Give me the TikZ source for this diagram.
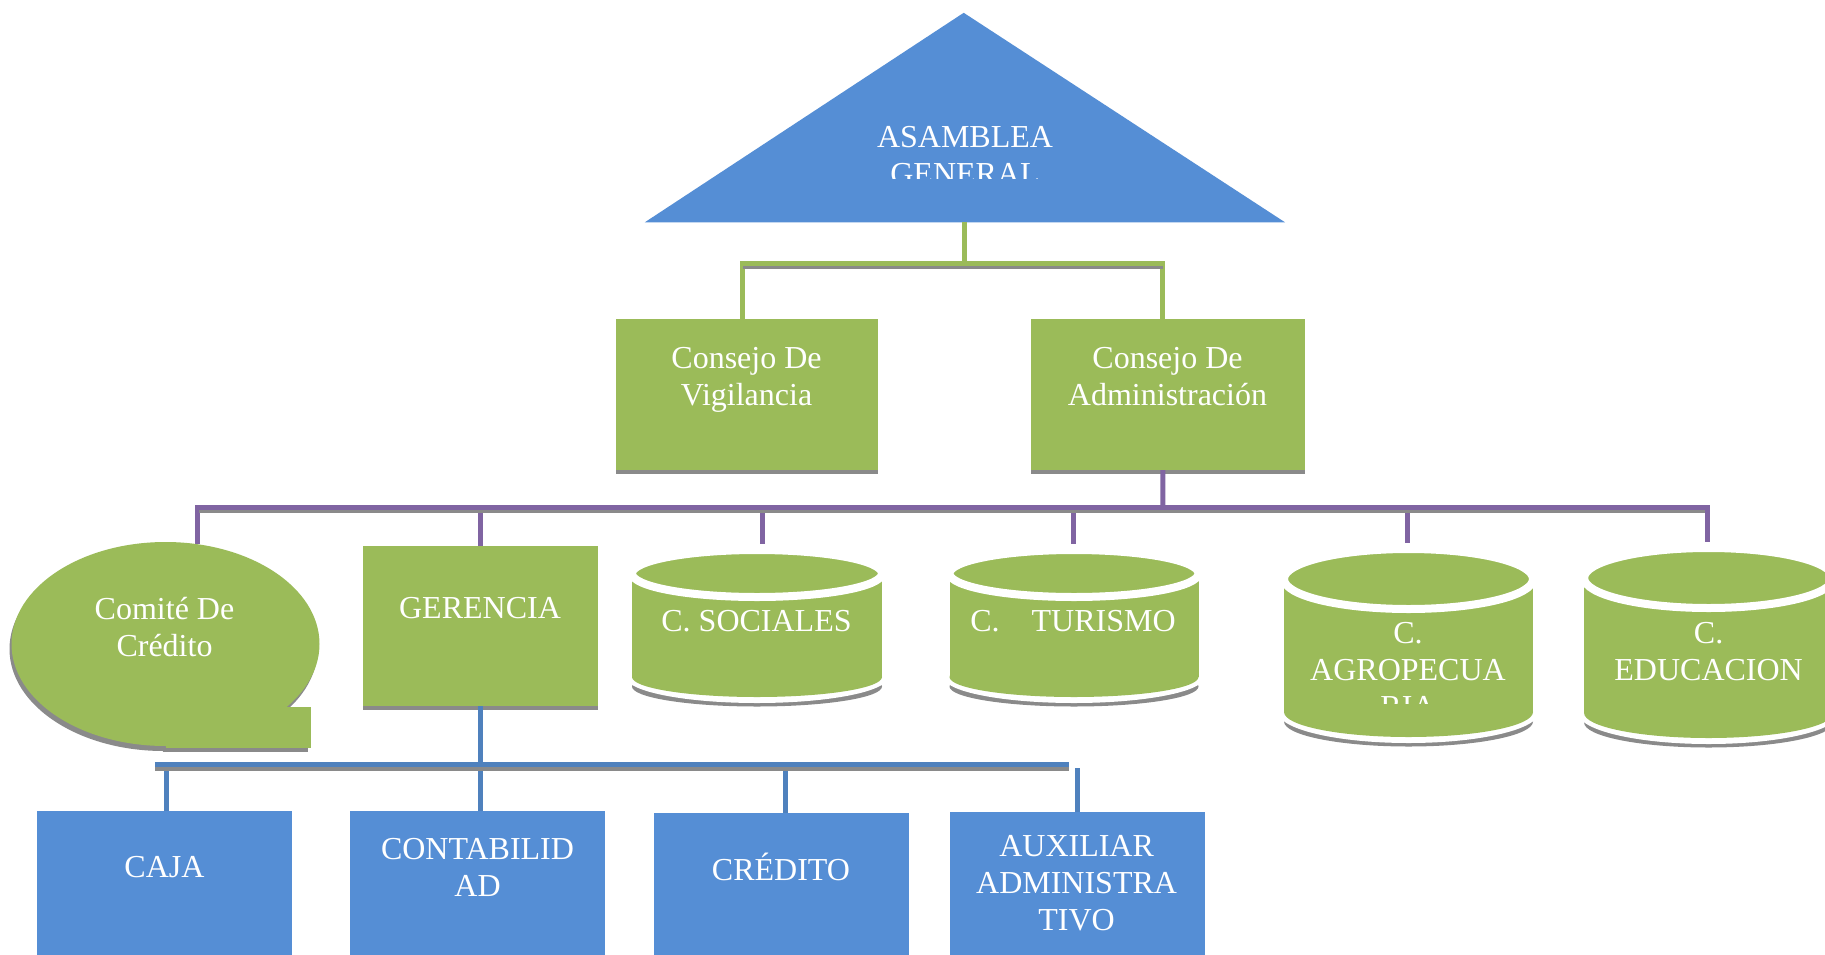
\documentclass[tikz,border=0pt]{standalone}
\usepackage{fontspec}
\setmainfont{Liberation Serif}
\usetikzlibrary{calc}
\definecolor{cblue}{HTML}{558ED5}
\definecolor{cgreen}{HTML}{9BBB59}
\definecolor{cpurple}{HTML}{8064A2}
\definecolor{cline}{HTML}{4F81BD}
\definecolor{cshadow}{HTML}{8A8A8A}
\newcommand\mylines[1]{\vtop{\baselineskip=37pt\halign{\hfil##\hfil\cr#1\crcr}}}
\newcommand\mycyl[6]{% cx hw yt ryt yb ryb
  \pgfmathsetmacro\cxa{#1-#2}\pgfmathsetmacro\cxb{#1+#2}%
  \pgfmathsetmacro\cxo{#1-#2-6}\pgfmathsetmacro\cxp{#1+#2+6}%
  \pgfmathsetmacro\rxo{#2+6}\pgfmathsetmacro\rto{#4+6}\pgfmathsetmacro\rbo{#6+6}%
  \pgfmathsetmacro\ysh{#5+9.5}%
  \fill[cshadow] (#1,\ysh) ellipse [x radius=#2, y radius=#6];
  \fill[white] (#1,#3) ellipse [x radius=\rxo, y radius=\rto];
  \fill[white] (\cxo,#3) rectangle (\cxp,#5);
  \fill[white] (#1,#5) ellipse [x radius=\rxo, y radius=\rbo];
  \fill[cgreen] (\cxa,#3) rectangle (\cxb,#5);
  \fill[cgreen] (#1,#5) ellipse [x radius=#2, y radius=#6];
  \path[fill=cgreen, draw=white, line width=8pt] (#1,#3) ellipse [x radius=#2, y radius=#4];
}
\begin{document}
\begin{tikzpicture}[x=1pt,y=-1pt,
  txt/.style={text=white, font=\fontsize{32}{37}\selectfont, inner sep=0pt, outer sep=0pt, anchor=base},
  gbox/.style={fill=cgreen, inner sep=0pt, outer sep=0pt, draw=none},
  bbox/.style={fill=cblue, inner sep=0pt, outer sep=0pt, draw=none},
  gline/.style={draw=cgreen, line width=5pt},
  pline/.style={draw=cpurple, line width=5pt},
  bline/.style={draw=cline, line width=5pt}]
\useasboundingbox (0,0) rectangle (1825,955);
\fill[white] (0,0) rectangle (1825,955);

% triangle
\fill[cblue] (644.8,222.3) -- (963.7,12.8) -- (1285,222.3) -- cycle;
\coordinate (asam) at (964,222.3);

% boxes
\node[gbox, minimum width=262, minimum height=151] (vig) at (746.65,394.5) {};
\node[gbox, minimum width=274.5, minimum height=151] (adm) at (1167.75,394.5) {};
\node[gbox, minimum width=234.5, minimum height=160] (ger) at (480.25,626) {};
\node[bbox, minimum width=255, minimum height=160] (caja) at (164.5,891) {};
\node[bbox, minimum width=255, minimum height=160] (cont) at (477.8,891) {};
\node[bbox, minimum width=255, minimum height=160] (cred) at (781.5,893) {};
\node[bbox, minimum width=255, minimum height=160] (aux) at (1077,892) {};

% box shadows
\fill[cshadow] (vig.south west) rectangle ($(vig.south east)+(0,4)$);
\fill[cshadow] (adm.south west) rectangle ($(adm.south east)+(0,4)$);
\fill[cshadow] (ger.south west) rectangle ($(ger.south east)+(0,4)$);

% green connectors
\coordinate (gj) at (964,263);
\draw[gline] (asam) -- (gj);
\draw[gline] ([xshift=-4pt]vig.north) |- (gj) -| ([xshift=-5pt]adm.north);
\fill[cshadow] (743,265.5) rectangle (1163,269);

% purple connectors
\coordinate (pj) at (1162.8,507);
\coordinate (comite) at (197,544);
\coordinate (socT) at (762,554);
\coordinate (turT) at (1073,554);
\coordinate (agrT) at (1407,553);
\coordinate (eduT) at (1707.5,552);
\draw[pline] ([xshift=-5pt]adm.south) -- (pj);
\draw[pline] (comite) |- (pj) -| (eduT);
\draw[pline] (ger.north) -- (ger.north |- pj);
\draw[pline] (socT) -- (socT |- pj);
\draw[pline] (turT) -- (turT |- pj);
\draw[pline] (agrT) -- (agrT |- pj);
\fill[cshadow] (199,509.5) rectangle (1705,513);

% blue connectors
\coordinate (bj) at (480.25,764.5);
\coordinate (bl) at (154.8,764.5);
\coordinate (br) at (1068.5,764.5);
\draw[bline] (ger.south) -- (bj);
\draw[bline] (bl) -- (br);
\draw[bline] ([xshift=2pt]caja.north) -- ([xshift=2pt]caja.north |- bj);
\draw[bline] ([xshift=3pt]cont.north) -- ([xshift=3pt]cont.north |- bj);
\draw[bline] ([xshift=3.5pt]cred.north) -- ([xshift=3.5pt]cred.north |- bj);
\draw[bline] (aux.north) -- ++(0,-44);
\fill[cshadow] (154.8,767) rectangle (1068.5,771);

% Comite callout
\fill[cshadow] (163.5,649) ellipse [x radius=154, y radius=102];
\fill[cshadow] (163,712) rectangle (308,752);
\fill[cgreen] (165.5,644) ellipse [x radius=154, y radius=102];
\fill[cgreen] (165.5,707) rectangle (311,748);

% cylinders
\mycyl{757}{125}{573.5}{23.5}{677}{20}
\mycyl{1074}{124.5}{573.5}{23.5}{677}{20}
\mycyl{1408.5}{124.5}{579}{30}{712}{25}
\mycyl{1708.6}{124.5}{578}{30}{713}{25}

% texts
\begin{scope}
\clip (0,0) rectangle (1825,178);
\node[txt] (asam-t) at (965,147.5) {\mylines{ASAMBLEA\cr GENERAL}};
\end{scope}
\node[txt] (vig-t) at (746.5,368.5) {\mylines{Consejo De\cr Vigilancia}};
\node[txt] (adm-t) at (1167.5,368.5) {\mylines{Consejo De\cr Administración}};
\node[txt] (com-t) at (164.5,619.5) {\mylines{Comité De\cr Crédito}};
\node[txt] (ger-t) at (480,618.5) {GERENCIA};
\node[txt] (soc-t) at (756.5,631.5) {C. SOCIALES};
\node[txt] (tur-t) at (1073,631.5) {C.\hspace{1em}TURISMO};
\begin{scope}
\clip (0,0) rectangle (1825,703);
\node[txt] (agr-t) at (1408,643.5) {\mylines{C.\cr AGROPECUA\cr RIA}};
\end{scope}
\node[txt] (edu-t) at (1708.6,643.5) {\mylines{C.\cr EDUCACION}};
\node[txt] (caja-t) at (164.5,877.5) {CAJA};
\node[txt] (cont-t) at (477.5,859) {\mylines{CONTABILID\cr AD}};
\node[txt] (cred-t) at (781,880.5) {CRÉDITO};
\node[txt] (aux-t) at (1076.6,856) {\mylines{AUXILIAR\cr ADMINISTRA\cr TIVO}};
\end{tikzpicture}
\end{document}
